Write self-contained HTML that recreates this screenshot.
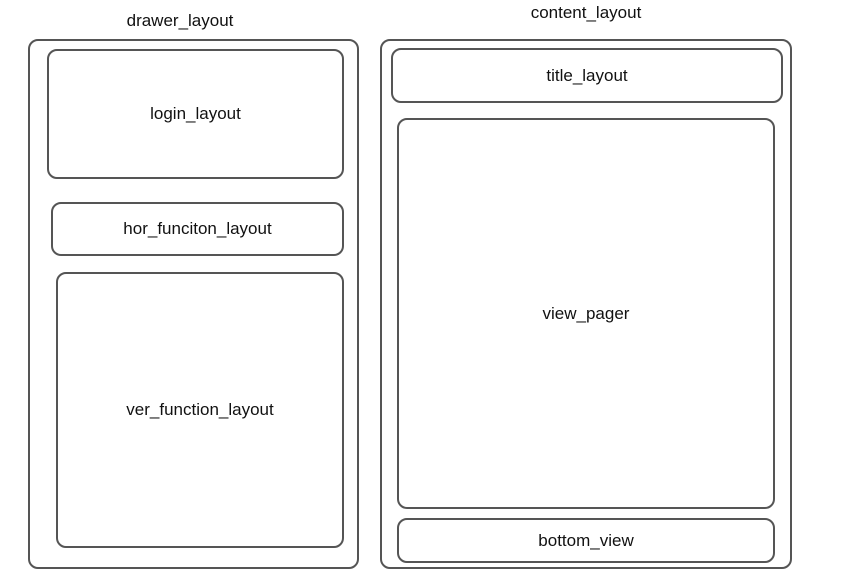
<!DOCTYPE html>
<html><head><style>
body{margin:0;width:855px;height:585px;background:#fff;position:relative;overflow:hidden;font-family:"Liberation Sans",sans-serif;color:#111}
.b{position:absolute;border:2px solid #555;border-radius:10px;box-sizing:border-box;display:flex;align-items:center;justify-content:center;font-size:17px}
.t{position:absolute;font-size:17px;transform:translateX(-50%);white-space:nowrap}
</style></head><body>
<div class="t" style="left:180px;top:11px">drawer_layout</div>
<div class="t" style="left:586px;top:3px">content_layout</div>
<div class="b" style="left:28px;top:39px;width:331px;height:530px"></div>
<div class="b" style="left:47px;top:49px;width:297px;height:130px">login_layout</div>
<div class="b" style="left:51px;top:202px;width:293px;height:54px">hor_funciton_layout</div>
<div class="b" style="left:56px;top:272px;width:288px;height:276px">ver_function_layout</div>
<div class="b" style="left:380px;top:39px;width:412px;height:530px"></div>
<div class="b" style="left:391px;top:48px;width:392px;height:55px">title_layout</div>
<div class="b" style="left:397px;top:118px;width:378px;height:391px">view_pager</div>
<div class="b" style="left:397px;top:518px;width:378px;height:45px">bottom_view</div>
</body></html>
